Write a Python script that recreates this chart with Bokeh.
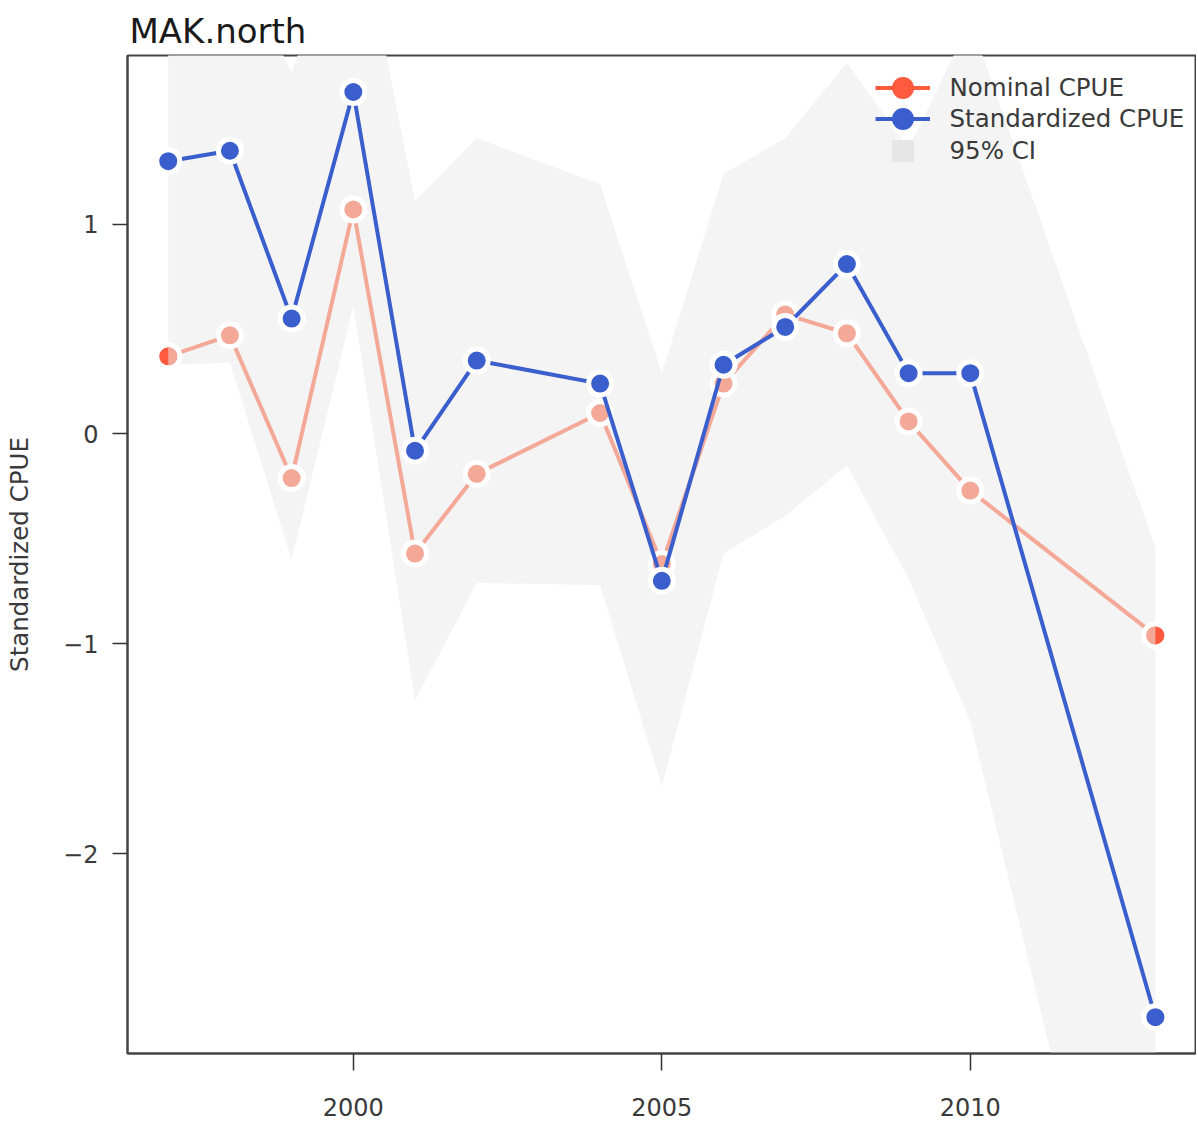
import math
from bokeh.plotting import figure
from bokeh.models import ColumnDataSource, FixedTicker, Legend, LegendItem, Range1d
from bokeh.embed import file_html
from bokeh.resources import INLINE

# ---- data ----
years = [1997, 1998, 1999, 2000, 2001, 2002, 2004, 2005, 2006, 2007, 2008, 2009, 2010, 2013]
standardized = [1.30, 1.35, 0.55, 1.63, -0.08, 0.35, 0.24, -0.70, 0.33, 0.51, 0.81, 0.29, 0.29, -2.78]
nominal = [0.37, 0.47, -0.21, 1.07, -0.57, -0.19, 0.10, -0.62, 0.24, 0.57, 0.48, 0.06, -0.27, -0.96]
ci_lower = [0.33, 0.34, -0.60, 0.61, -1.27, -0.71, -0.72, -1.68, -0.57, -0.39, -0.15, -0.69, -1.37, -5.00]
ci_upper = [2.30, 2.35, 1.72, 2.60, 1.11, 1.41, 1.19, 0.29, 1.24, 1.41, 1.77, 1.36, 1.97, -0.54]
x_ticks = [2000, 2005, 2010]
y_ticks = [-2, -1, 0, 1]
y_tick_labels = ["\u22122", "\u22121", "0", "1"]
title_text = "MAK.north"
y_label = "Standardized CPUE"
legend_labels = ["Nominal CPUE", "Standardized CPUE", "95% CI"]

# ---- styles ----
FONT = "DejaVu Sans"
TXT = "#3a3a3a"
BLUE = "#3A5FCD"
TOMATO = "#FF5A3D"
SALMON = "#F4A898"
BAND = "#F4F4F4"
BAND_KEY = "#E6E6E6"
NAN = float("nan")

src = ColumnDataSource(dict(x=years, std=standardized, nom=nominal, lo=ci_lower, hi=ci_upper))
ends = ColumnDataSource(dict(
    x=[years[0], years[-1]],
    y=[nominal[0], nominal[-1]],
    start=[-math.pi / 2, math.pi / 2],
    end=[math.pi / 2, 3 * math.pi / 2],
))
proxy = ColumnDataSource(dict(x=[NAN], y=[NAN]))

p = figure(
    width=1196, height=1120,
    x_range=Range1d(1996.34, 2013.65), y_range=Range1d(-2.953, 1.804),
    output_backend="svg", toolbar_location=None,
    min_border_left=127, min_border_right=1, min_border_top=55, min_border_bottom=67,
    title=title_text,
)
p.title.text_font = FONT
p.title.text_font_size = "34px"
p.title.text_font_style = "normal"
p.title.text_color = "#1a1a1a"
p.title.offset = 2
p.title.standoff = 10

p.xgrid.visible = False
p.ygrid.visible = False
p.outline_line_color = "#444444"
p.outline_line_width = 2
p.background_fill_color = "white"
p.border_fill_color = "white"

# band
p.varea(x="x", y1="lo", y2="hi", source=src, fill_color=BAND)

# nominal
p.line(x="x", y="nom", source=src, line_color=SALMON, line_width=4)
p.scatter(x="x", y="nom", source=src, size=23, fill_color=SALMON, line_color="white", line_width=5)
p.scatter(x="x", y="y", source=ends, size=23, fill_color=TOMATO, line_color="white", line_width=5)
p.wedge(x="x", y="y", radius=9, radius_units="screen", start_angle="start", end_angle="end",
        source=ends, fill_color=SALMON, line_color=None)

# standardized
p.line(x="x", y="std", source=src, line_color=BLUE, line_width=4)
p.scatter(x="x", y="std", source=src, size=23, fill_color=BLUE, line_color="white", line_width=5)

# legend proxies (single NaN point, never visible in the plot)
l_nom_line = p.line(x="x", y="y", source=proxy, line_color=TOMATO, line_width=4)
l_nom_pt = p.scatter(x="x", y="y", source=proxy, size=22, fill_color=TOMATO, line_color=None)
l_std_line = p.line(x="x", y="y", source=proxy, line_color=BLUE, line_width=4)
l_std_pt = p.scatter(x="x", y="y", source=proxy, size=22, fill_color=BLUE, line_color=None)
l_ci = p.scatter(x="x", y="y", source=proxy, marker="square", size=22, fill_color=BAND_KEY, line_color=None)

row_centers = [87, 118, 150]  # screen offsets of legend rows below page top
entries = [
    (legend_labels[0], [l_nom_line, l_nom_pt]),
    (legend_labels[1], [l_std_line, l_std_pt]),
    (legend_labels[2], [l_ci]),
]
for (lab, rends), yc in zip(entries, row_centers):
    lg = Legend(items=[LegendItem(label=lab, renderers=rends)])
    lg.location = (874.5 - 127, 1053 - (yc + 27.5))
    lg.glyph_width = 55
    lg.glyph_height = 55
    lg.label_height = 20
    lg.label_standoff = 20
    lg.padding = 0
    lg.margin = 0
    lg.border_line_color = None
    lg.background_fill_alpha = 0
    lg.label_text_font = FONT
    lg.label_text_font_size = "24.5px"
    lg.label_text_color = TXT
    p.add_layout(lg)

# axes
for ax in (p.xaxis[0], p.yaxis[0]):
    ax.axis_line_color = "#444444"
    ax.axis_line_width = 2
    ax.major_tick_in = 0
    ax.minor_tick_line_color = None
    ax.major_tick_line_color = "#333333"
    ax.major_tick_line_width = 1.5
    ax.major_label_text_font = FONT
    ax.major_label_text_font_size = "24px"
    ax.major_label_text_color = TXT

p.xaxis.ticker = FixedTicker(ticks=x_ticks)
p.xaxis.major_tick_out = 17
p.xaxis.major_label_standoff = 27

p.yaxis.ticker = FixedTicker(ticks=y_ticks)
p.yaxis.major_label_overrides = {t: s for t, s in zip(y_ticks, y_tick_labels)}
p.yaxis.major_tick_out = 15
p.yaxis.major_label_standoff = 14
p.yaxis.axis_label = y_label
p.yaxis.axis_label_text_font = FONT
p.yaxis.axis_label_text_font_size = "24.5px"
p.yaxis.axis_label_text_font_style = "normal"
p.yaxis.axis_label_text_color = TXT
p.yaxis.axis_label_standoff = 26

open("out.html", "w").write(file_html(p, INLINE))
